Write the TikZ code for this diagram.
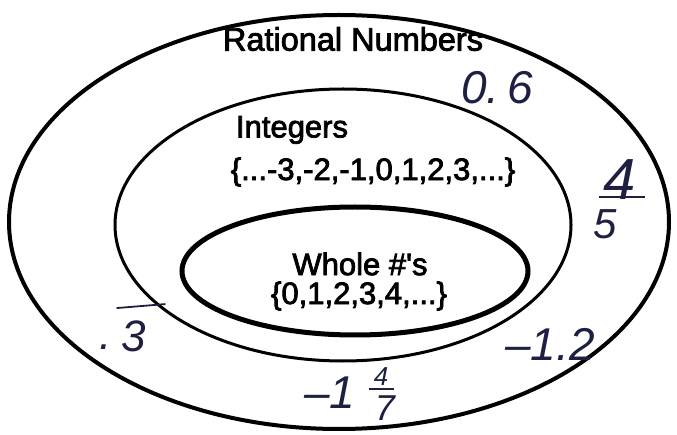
\documentclass[tikz,border=0pt]{standalone}
\usepackage{fontspec}
\setmainfont{Liberation Sans}
\newfontfamily\impresa{Liberation Sans}[FakeBold=2.5]
\usetikzlibrary{positioning, shapes.geometric}
\definecolor{colorTinta}{RGB}{30,32,66}

\begin{document}
\begin{tikzpicture}[
	x=1pt, y=-1pt,
	conjunto/.style={ellipse, draw=black, inner sep=0pt},
	titulo/.style={font=\fontsize{31}{34}\selectfont\impresa, inner sep=1pt},
	mano/.style={font=\fontsize{44}{46}\selectfont\itshape, text=colorTinta, inner sep=1pt, anchor=base},
	raya/.style={draw=colorTinta, line width=1.8pt},
	]
\useasboundingbox (0,0) rectangle (677,435);

% Conjuntos
\node[conjunto, line width=4pt, minimum width=660pt, minimum height=414pt] (racionales) at (339,222) {};
\node[conjunto, line width=3pt, minimum width=456pt, minimum height=272pt] (enteros) at (343,225) {};
\node[conjunto, line width=5pt, minimum width=346pt, minimum height=128pt] (enterosPos) at (355,271) {};

% Nombres de los conjuntos
\node[titulo, font=\fontsize{32.5}{34}\selectfont\impresa] (tRacionales) at (353,39) {Rational Numbers};
\node[titulo] (tEnteros) at (292,130) {Integers};
\node[titulo] (sEnteros) at (373,172) {\{...-3,-2,-1,0,1,2,3,...\}};
\node[titulo] (tEnterosPos) at (360,264) {Whole \#'s};
\node[titulo] (sEnterosPos) at (359,296) {\{0,1,2,3,4,...\}};

% Ejemplos escritos a mano
\node[mano, font=\fontsize{46}{48}\selectfont\itshape] (n1) at (497,104) {0.\,6};
% 4/5
\node[mano, font=\fontsize{58}{60}\selectfont\itshape] (n2a) at (620,200) {4};
\node[mano, font=\fontsize{42}{44}\selectfont\itshape] (n2b) at (605,239) {5};
\draw[raya] ([xshift=-4pt, yshift=3pt]n2a.base west) -- ([xshift=8pt, yshift=3pt]n2a.base east);
% .3 periodico
\node[mano] (n3a) at (106,350) {.};
\node[mano] (n3b) at (134,352) {3};
\draw[raya] ([xshift=-4pt, yshift=12pt]n3b.north west) -- ([xshift=18pt, yshift=16pt]n3b.north east);
% -1.2
\node[mano, font=\fontsize{46}{48}\selectfont\itshape] (n4) at (550,360) {--1.2};
% -1 4/7
\node[mano, font=\fontsize{46}{48}\selectfont\itshape] (n5) at (330,408) {--1};
\node[mano, font=\fontsize{26}{28}\selectfont\itshape] (n5a) at (381,385) {4};
\node[mano, font=\fontsize{36}{38}\selectfont\itshape] (n5b) at (385,420) {7};
\draw[raya] ([xshift=-4pt, yshift=-4pt]n5a.base west) -- ([xshift=5pt, yshift=-4pt]n5a.base east);

\end{tikzpicture}
\end{document}
